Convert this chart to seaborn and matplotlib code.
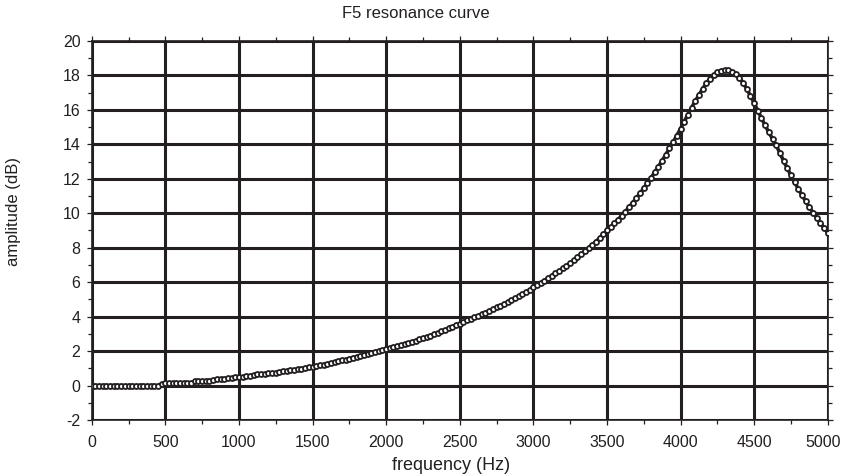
import numpy as np
import pandas as pd
import matplotlib
matplotlib.use("Agg")
import matplotlib.pyplot as plt
import matplotlib.transforms as mtransforms
from matplotlib.ticker import MultipleLocator
import seaborn as sns

# ---- data ----
title = "F5 resonance curve"
x_label = "frequency (Hz)"
y_label = "amplitude (dB)"

freq_step = 25
amplitude_db = [
    0.0, 0.0, 0.0, 0.0, 0.0, 0.0, 0.0, 0.0, 0.0, 0.0,
    0.0, 0.0, 0.0, 0.0, 0.0, 0.0, 0.0, 0.0, 0.0,
    0.11, 0.12, 0.13, 0.13, 0.14, 0.14, 0.15, 0.15, 0.16,
    0.25, 0.26, 0.27, 0.28, 0.29, 0.30,
    0.37, 0.38, 0.40, 0.41, 0.43,
    0.48, 0.50, 0.51, 0.53, 0.55,
    0.63, 0.65, 0.67, 0.69, 0.71, 0.73, 0.75,
    0.80, 0.83, 0.86, 0.88, 0.91, 0.94, 0.97, 1.01, 1.05, 1.10,
    1.14, 1.18, 1.22, 1.27, 1.31, 1.36, 1.41, 1.46, 1.51, 1.56,
    1.61, 1.66, 1.72, 1.78, 1.84, 1.90, 1.96, 2.02, 2.06, 2.10,
    2.16, 2.22, 2.28, 2.34, 2.40, 2.47, 2.54, 2.61, 2.68, 2.75,
    2.82, 2.90, 2.98, 3.06, 3.14, 3.23, 3.32, 3.41, 3.50, 3.60,
    3.69, 3.78, 3.87, 3.96, 4.05, 4.14, 4.24, 4.34, 4.44, 4.54,
    4.64, 4.74, 4.85, 4.96, 5.07, 5.18, 5.30, 5.42, 5.56, 5.70,
    5.83, 5.96, 6.09, 6.23, 6.37, 6.51, 6.66, 6.81, 6.96, 7.12,
    7.28, 7.45, 7.62, 7.80, 7.98, 8.17, 8.36, 8.56, 8.77, 9.00,
    9.20, 9.41, 9.63, 9.86, 10.10, 10.35, 10.61, 10.88, 11.16, 11.45,
    11.75, 12.06, 12.38, 12.71, 13.05, 13.40, 13.76, 14.13, 14.51, 14.90,
    15.32, 15.73, 16.13, 16.51, 16.87, 17.22, 17.54, 17.82, 18.04, 18.19,
    18.28, 18.32,
    18.30, 18.22, 18.09, 17.88, 17.58, 17.22, 16.82, 16.40, 15.96, 15.52,
    15.10, 14.70, 14.32, 13.95, 13.50, 13.05, 12.62, 12.20, 11.80, 11.42,
    11.05, 10.70, 10.36, 10.04, 9.74, 9.44, 9.15, 8.86,
]
frequency_hz = [i * freq_step for i in range(len(amplitude_db))]

x_ticks = [0, 500, 1000, 1500, 2000, 2500, 3000, 3500, 4000, 4500, 5000]
y_ticks = [-2, 0, 2, 4, 6, 8, 10, 12, 14, 16, 18, 20]

df = pd.DataFrame({"freq": frequency_hz, "amp": amplitude_db})

# ---- style ----
INK = "#231f20"
sns.set_theme(style="white")
plt.rcParams["font.family"] = ["Liberation Sans", "DejaVu Sans"]
plt.rcParams["axes.unicode_minus"] = False

fig = plt.figure(figsize=(8.43, 4.75), dpi=100)
L, R, T, B = 91.7, 827.7, 41.0, 420.0
W, H = 843.0, 475.0
ax = fig.add_axes([L / W, 1 - B / H, (R - L) / W, (B - T) / H])
ax.set_facecolor("white")

# thin connecting band so the dense chain of markers reads as continuous
sns.lineplot(data=df, x="freq", y="amp", ax=ax, estimator=None,
             color=INK, linewidth=2.6, zorder=3)
sns.lineplot(data=df, x="freq", y="amp", ax=ax, estimator=None,
             linestyle="none", marker="o", markersize=3.6,
             markerfacecolor="white", markeredgecolor=INK,
             markeredgewidth=1.3, color=INK, zorder=4)

ax.set_xlim(0, 5000)
ax.set_ylim(-2, 20)
ax.set_xticks(x_ticks)
ax.set_yticks(y_ticks)
ax.xaxis.set_minor_locator(MultipleLocator(250))
ax.yaxis.set_minor_locator(MultipleLocator(1))

ax.grid(True, which="major", color=INK, linewidth=2.2)
ax.set_axisbelow(True)

for s in ax.spines.values():
    s.set_visible(True)
    s.set_color(INK)
    s.set_linewidth(1.2)

ax.tick_params(which="both", direction="out", color=INK, width=0.9,
               top=True, right=True, bottom=True, left=True,
               labeltop=False, labelright=False)
ax.tick_params(which="major", length=3.6)
ax.tick_params(which="minor", length=2.6)
ax.tick_params(axis="x", which="major", pad=7, labelsize=11.5, labelcolor=INK)
ax.tick_params(axis="y", which="major", pad=4.5, labelsize=11.5, labelcolor=INK)

ax.set_xlabel("")
ax.set_ylabel("")

# keep the last x tick label inside the canvas, as in the reference
last = ax.get_xticklabels()[-1]
last.set_transform(last.get_transform() +
                   mtransforms.ScaledTranslation(-5 / 100, 0, fig.dpi_scale_trans))

fig.text(416 / W, 1 - 13 / H, title, ha="center", va="center",
         fontsize=12, color=INK)
fig.text(451 / W, 1 - 465 / H, x_label, ha="center", va="center",
         fontsize=13, color=INK)
fig.text(14 / W, 1 - 212 / H, y_label, ha="center", va="center",
         rotation=90, fontsize=12, color=INK)

fig.savefig("out.png", dpi=100, facecolor="white")
